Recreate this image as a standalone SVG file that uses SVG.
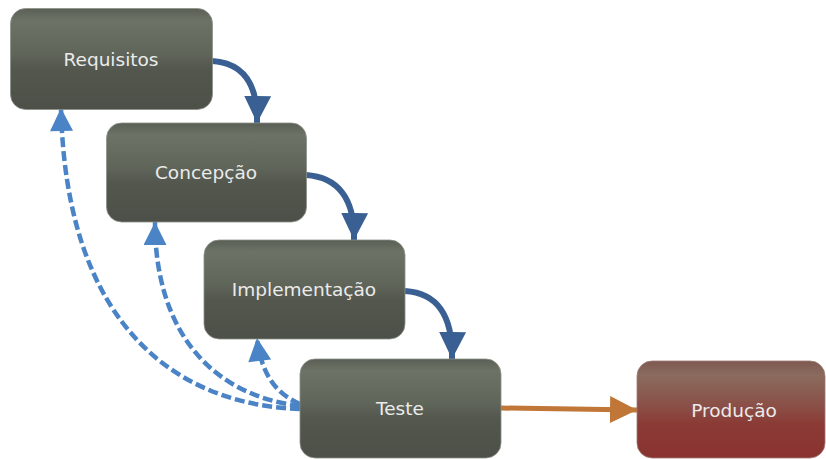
<svg xmlns="http://www.w3.org/2000/svg" width="826" height="459" viewBox="0 0 826 459">
  <defs>
    <linearGradient id="gStage" x1="0" y1="0" x2="0" y2="1">
      <stop offset="0" stop-color="#5a5f55"/>
      <stop offset="0.12" stop-color="#6c7366"/>
      <stop offset="0.45" stop-color="#60655a"/>
      <stop offset="0.6" stop-color="#53574e"/>
      <stop offset="1" stop-color="#4d5048"/>
    </linearGradient>
    <linearGradient id="gProd" x1="0" y1="0" x2="0" y2="1">
      <stop offset="0" stop-color="#7e5a52"/>
      <stop offset="0.15" stop-color="#8a6b5e"/>
      <stop offset="0.5" stop-color="#8a4c44"/>
      <stop offset="0.65" stop-color="#8b3a35"/>
      <stop offset="1" stop-color="#8a3331"/>
    </linearGradient>
    <marker id="mSolid" viewBox="0 0 10 10" refX="10" refY="5" markerUnits="userSpaceOnUse" markerWidth="27" markerHeight="28" orient="auto">
      <path d="M0,0 L10,5 L0,10 Z" fill="#3a5f92"/>
    </marker>
    <marker id="mDash" viewBox="0 0 10 10" refX="10" refY="5" markerUnits="userSpaceOnUse" markerWidth="25" markerHeight="23" orient="auto">
      <path d="M0,0 L10,5 L0,10 Z" fill="#4a84c6"/>
    </marker>
    <marker id="mOrange" viewBox="0 0 10 10" refX="10" refY="5" markerUnits="userSpaceOnUse" markerWidth="27" markerHeight="27" orient="auto">
      <path d="M0,0 L10,5 L0,10 Z" fill="#c07636"/>
    </marker>
  </defs>
  <style>
    .stage { fill: url(#gStage); stroke: #8c9088; stroke-width: 0.8; }
    .prod { fill: url(#gProd); stroke: #a07a72; stroke-width: 0.8; }
    .label { font-family: "DejaVu Sans", Verdana, sans-serif; font-size: 18.5px; fill: #ebebeb; text-anchor: middle; }
    .flow { fill: none; stroke: #3a5f92; stroke-width: 6; marker-end: url(#mSolid); }
    .back { fill: none; stroke: #4a84c6; stroke-width: 4.5; stroke-dasharray: 10 4; marker-end: url(#mDash); }
    .release { fill: none; stroke: #c07636; stroke-width: 5; marker-end: url(#mOrange); }
  </style>

  <g id="connectors">
    <path class="flow" d="M212,61 C242,63 258,82 257,123"/>
    <path class="flow" d="M306,175 C336,177 355,196 354,240"/>
    <path class="flow" d="M405,291 C435,293 453,312 452,359"/>
    <path class="back" d="M300,409 C180,405 66,330 61,108"/>
    <path class="back" d="M300,406 C210,395 155,330 155,222"/>
    <path class="back" d="M300,404 C280,395 262,380 257,338"/>
    <path class="release" d="M500,408 L637,410"/>
  </g>

  <g id="requisitos">
    <rect class="stage" x="10.5" y="8.5" width="202" height="101" rx="15"/>
    <text class="label" x="111" y="65.5">Requisitos</text>
  </g>
  <g id="concepcao">
    <rect class="stage" x="106.5" y="123" width="200" height="99" rx="15"/>
    <text class="label" x="206" y="179">Concepção</text>
  </g>
  <g id="implementacao">
    <rect class="stage" x="204" y="240" width="201" height="99" rx="15"/>
    <text class="label" x="304" y="296">Implementação</text>
  </g>
  <g id="teste">
    <rect class="stage" x="300" y="359" width="201" height="99" rx="15"/>
    <text class="label" x="400" y="415">Teste</text>
  </g>
  <g id="producao">
    <rect class="prod" x="637" y="361" width="188" height="97" rx="15"/>
    <text class="label" x="734" y="417">Produção</text>
  </g>
</svg>
